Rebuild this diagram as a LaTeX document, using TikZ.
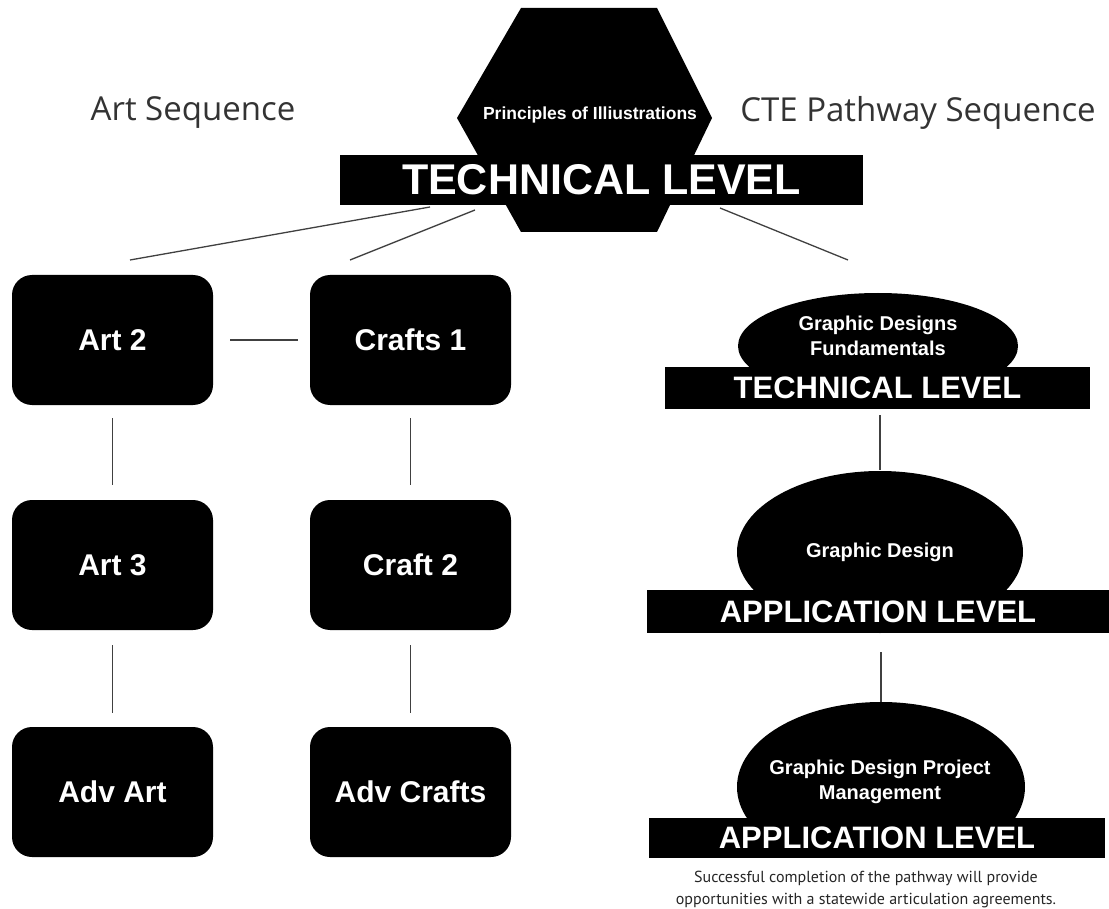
\documentclass[tikz,border=0pt]{standalone}
\usepackage{fontspec}
\setmainfont{Liberation Sans}
\newfontfamily\thinfont{PT Sans}
\newfontfamily\headfont{Open Sans}
\usetikzlibrary{shapes.geometric}
\begin{document}
\begin{tikzpicture}[x=1pt,y=-1pt,
  box/.style={fill=black, rounded corners=20pt, minimum width=201pt, minimum height=130pt, inner sep=0pt, text=white, font=\bfseries\fontsize{30}{34}\selectfont},
  banner/.style={fill=black, inner sep=0pt, text=white, font=\bfseries\fontsize{31}{36}\selectfont},
  oval/.style={ellipse, fill=black, inner sep=0pt, text=white, align=center, font=\bfseries\fontsize{20}{24}\selectfont},
  ovaltext/.style={text=white, align=center, font=\bfseries\fontsize{20}{25}\selectfont},
  link/.style={draw=black!75, line width=1.3pt},
  head/.style={font=\headfont\fontsize{33}{38}\selectfont, text=black!80}
]
\useasboundingbox (0,0) rectangle (1109,909);

% headings
\node[head] (artseq) at (193,113) {Art Sequence};
\node[head] (cteseq) at (918,113) {CTE Pathway Sequence};

% top hexagon and banner
\fill[black] (521,8) -- (657,8) -- (712,118) -- (657,232) -- (521,232) -- (457,118) -- cycle;
\node[text=white, font=\bfseries\fontsize{17.5}{20}\selectfont] (hex) at (590,115) {Principles of Illiustrations};
\node[banner, minimum width=523pt, minimum height=50pt, font=\bfseries\fontsize{43}{48}\selectfont] (tl) at (601.5,180) {TECHNICAL LEVEL};

% art boxes
\node[box] (art2) at (112.5,340) {Art 2};
\node[box] (crafts1) at (410.5,340) {Crafts 1};
\node[box] (art3) at (112.5,565) {Art 3};
\node[box] (craft2) at (410.5,565) {Craft 2};
\node[box] (advart) at (112.5,792) {Adv Art};
\node[box] (advcrafts) at (410.5,792) {Adv Crafts};

% right column
\node[oval, minimum width=280pt, minimum height=106pt] (gdf) at (878,346) {};
\node[ovaltext] (gdft) at (878,336) {Graphic Designs\\Fundamentals};
\node[banner, minimum width=425pt, minimum height=42pt] (b1) at (877.5,388) {TECHNICAL LEVEL};

\node[oval, minimum width=286pt, minimum height=162pt] (gd) at (880,552) {Graphic Design};
\node[banner, minimum width=462pt, minimum height=43pt] (b2) at (878,611.5) {APPLICATION LEVEL};

\begin{scope}
\clip (0,0) rectangle (1109,819);
\node[oval, minimum width=288pt, minimum height=170pt] (gdpm) at (881,787) {};
\end{scope}
\node[ovaltext] (gdpmt) at (880,782) {Graphic Design Project\\Management};
\node[banner, minimum width=456pt, minimum height=40pt] (b3) at (877,838) {APPLICATION LEVEL};

\node[align=center, font=\thinfont\fontsize{16}{22}\selectfont, text=black!85] (cap) at (866,889) {Successful completion of the pathway will provide\\opportunities with a statewide articulation agreements.};

% connector end points
\coordinate (c1) at (430,207);
\coordinate (c1e) at (130,260);
\coordinate (c2) at (475,210);
\coordinate (c2e) at (350,260);
\coordinate (c3) at (720,208);
\coordinate (c3e) at (848,260);

\draw[link] (c1) -- (c1e);
\draw[link] (c2) -- (c2e);
\draw[link] (c3) -- (c3e);
\draw[link, shorten <=17pt, shorten >=12pt] (art2) -- (crafts1);
\draw[link, shorten <=13pt, shorten >=15pt] (art2) -- (art3);
\draw[link, shorten <=13pt, shorten >=15pt] (crafts1) -- (craft2);
\draw[link, shorten <=15pt, shorten >=14pt] (art3) -- (advart);
\draw[link, shorten <=15pt, shorten >=14pt] (craft2) -- (advcrafts);
\draw[link, shorten <=6pt, shorten >=1pt] (b1.south -| gd.north) -- (gd.north);
\draw[link, shorten <=19pt, shorten >=0pt] (b2.south -| gdpm.north) -- (gdpm.north);
\end{tikzpicture}
\end{document}
